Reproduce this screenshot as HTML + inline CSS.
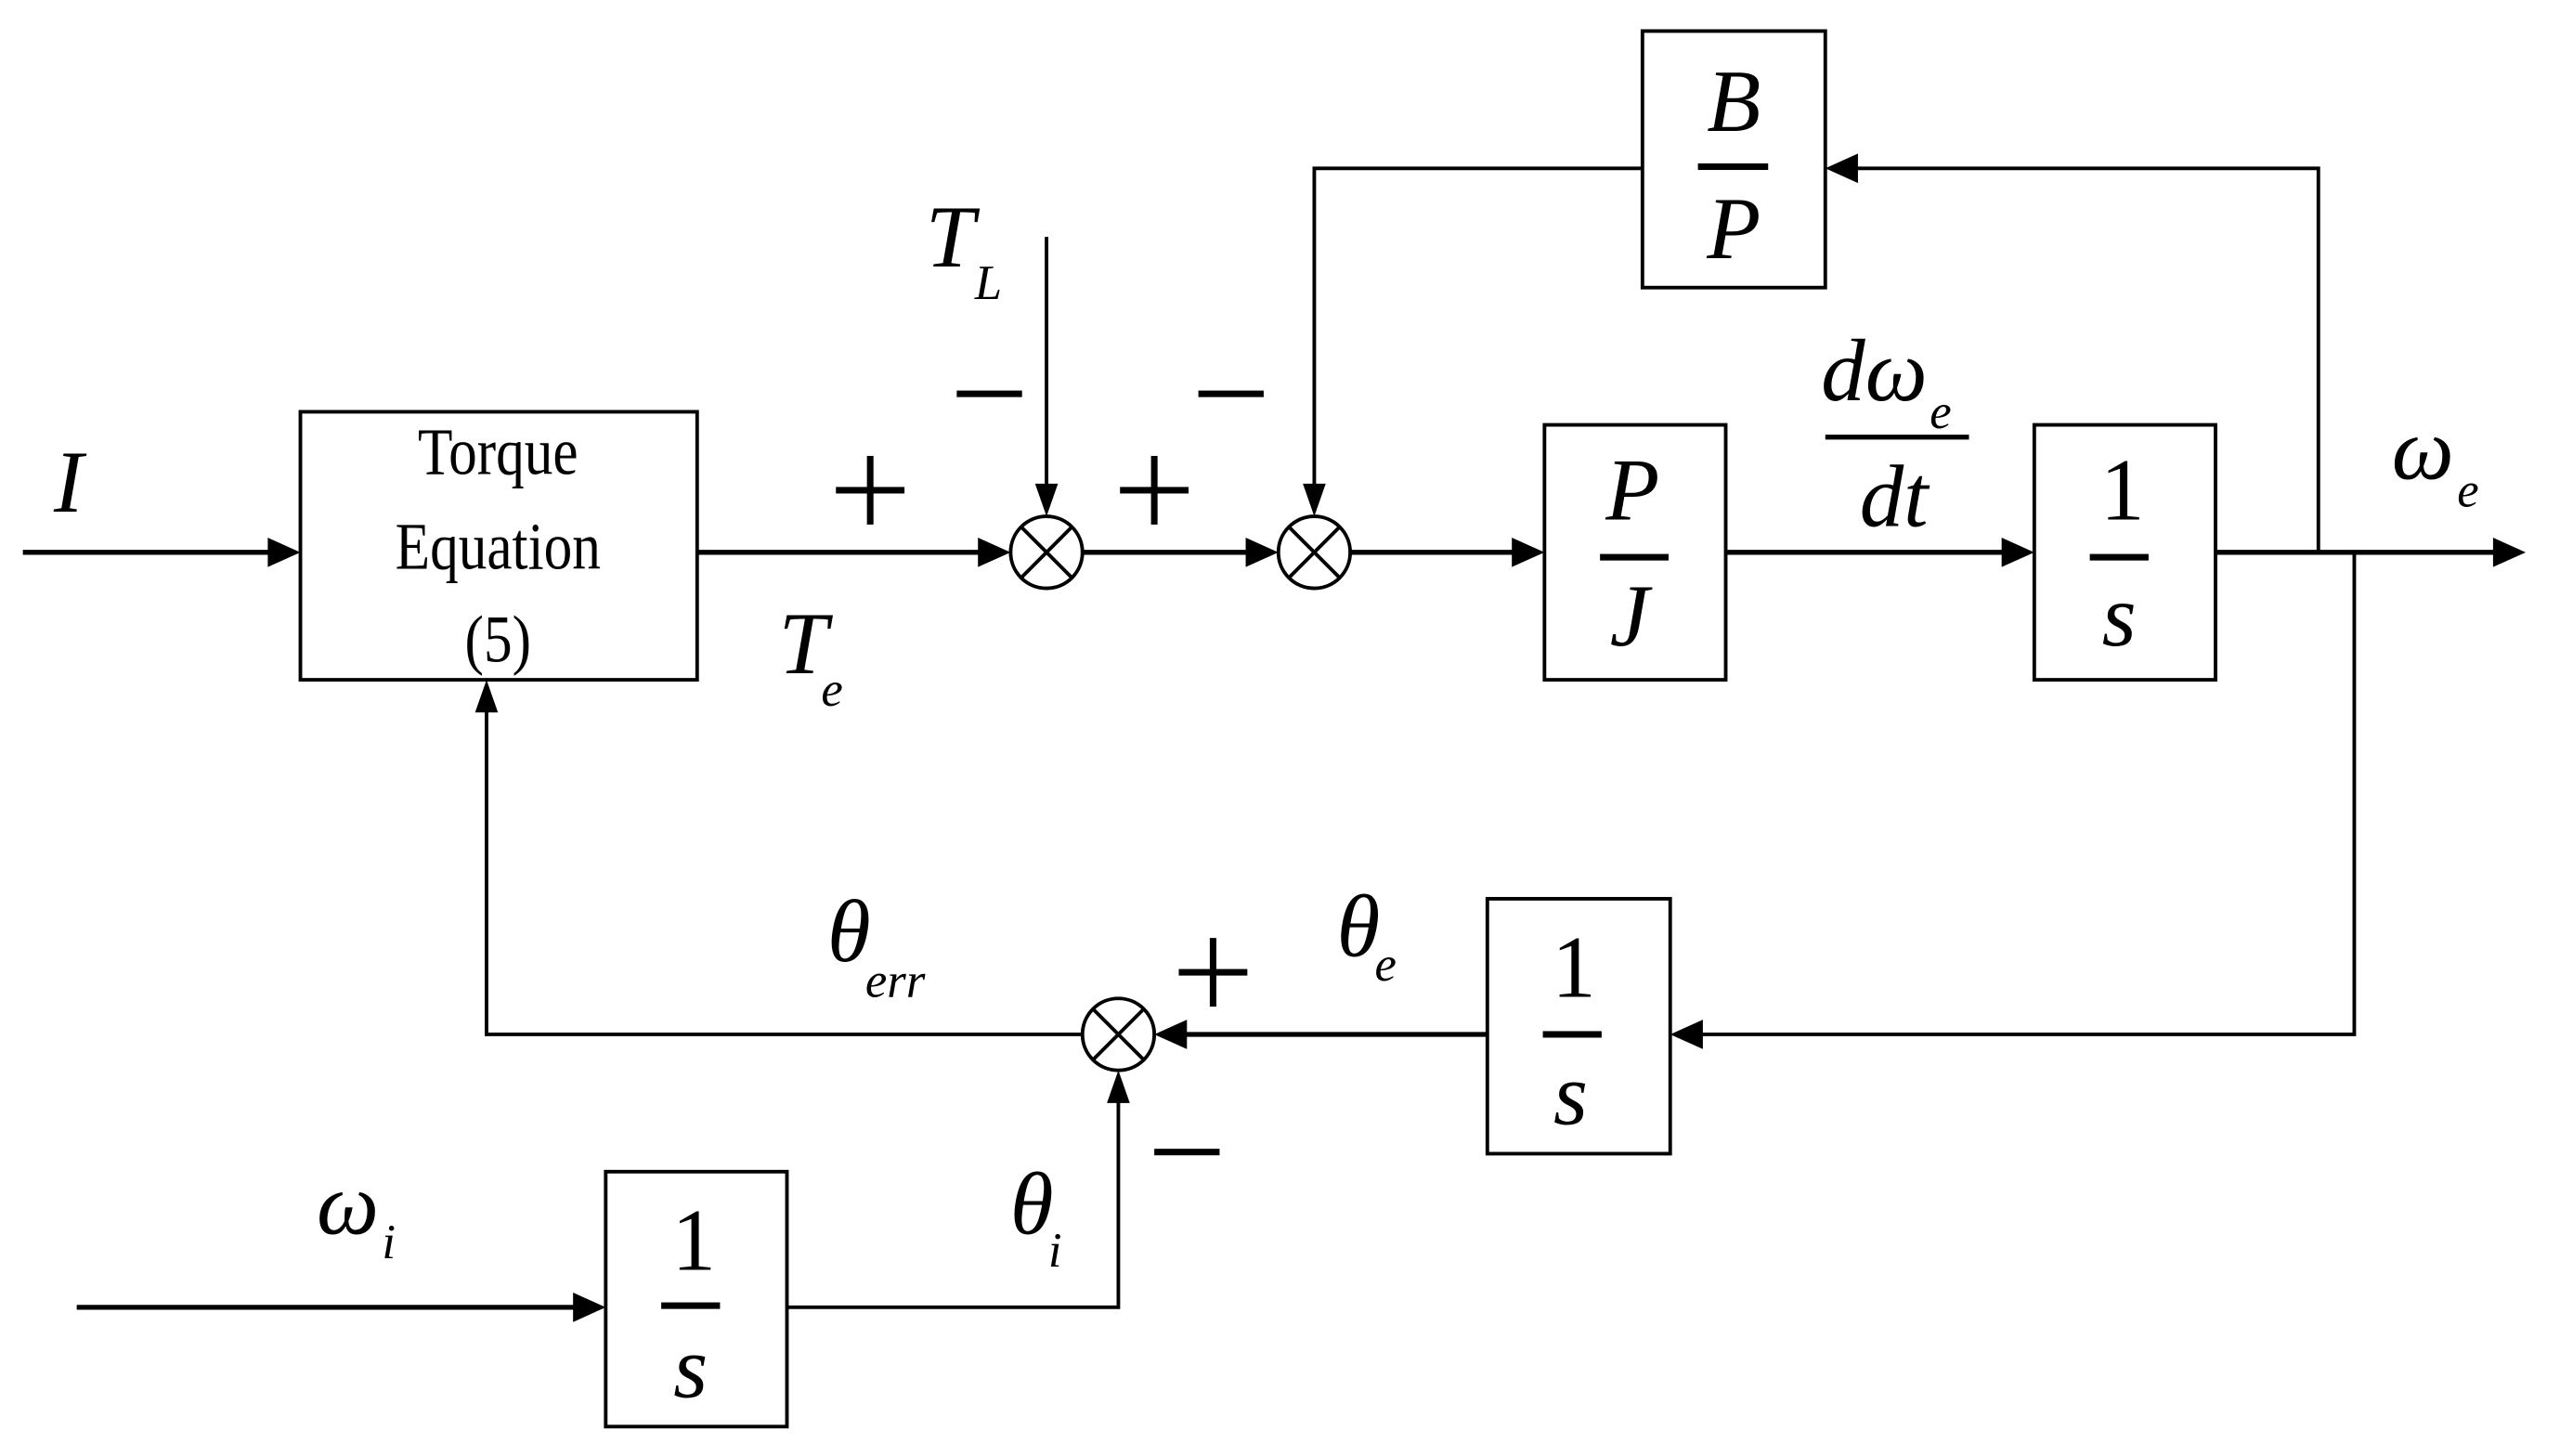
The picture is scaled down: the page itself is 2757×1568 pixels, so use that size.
<!DOCTYPE html>
<html><head><meta charset="utf-8"><style>html,body{margin:0;padding:0;background:#fff}svg{display:block}</style></head>
<body>
<svg width="2757" height="1568" viewBox="0 0 1568 891" preserveAspectRatio="none" xmlns="http://www.w3.org/2000/svg">
<g fill="none" stroke="#000" stroke-width="2.2">
<rect x="184" y="252" width="243" height="164"/>
<rect x="1006" y="19" width="112" height="157"/>
<rect x="946" y="260" width="111" height="156"/>
<rect x="1246" y="260" width="111" height="156"/>
<rect x="911" y="550" width="112" height="156"/>
<rect x="371" y="717" width="111" height="156"/>
<circle cx="641" cy="338" r="22"/><path d="M625,322 L657,354 M657,322 L625,354"/>
<circle cx="805" cy="338" r="22"/><path d="M789,322 L821,354 M821,322 L789,354"/>
<circle cx="685" cy="633" r="22"/><path d="M669,617 L701,649 M701,617 L669,649"/>
<path d="M1006,103 H805 V300"/>
<path d="M1420,338 V103 H1136"/>
<path d="M1442,338 V633 H1041"/>
<path d="M663,633 H298 V434"/>
<path d="M482,800 H685 V673"/>
<path d="M641,145 V298"/>
</g>
<g stroke="#000" stroke-width="3" fill="none">
<path d="M14,338 H166"/><path d="M427,338 H601"/><path d="M663,338 H765"/><path d="M827,338 H928"/><path d="M1057,338 H1228"/><path d="M1357,338 H1529"/>
<path d="M47,800 H353"/><path d="M911,633 H725"/>
</g>
<g fill="#000">
<path d="M184,338 l-20,-9 v18z"/><path d="M619,338 l-20,-9 v18z"/><path d="M783,338 l-20,-9 v18z"/><path d="M946,338 l-20,-9 v18z"/><path d="M1246,338 l-20,-9 v18z"/><path d="M1547,338 l-20,-9 v18z"/>
<path d="M371,800 l-20,-9 v18z"/><path d="M707,633 l20,-9 v18z"/><path d="M1023,633 l20,-9 v18z"/><path d="M1118,103 l20,-9 v18z"/>
<path d="M641,316 l-7,-20 h14z"/><path d="M805,316 l-7,-20 h14z"/><path d="M685,655 l-7,20 h14z"/><path d="M298,416 l-7,20 h14z"/>
<rect x="980" y="339" width="42" height="4"/><rect x="1280" y="339" width="36" height="4"/><rect x="1040" y="100" width="43" height="4"/><rect x="945" y="631" width="36" height="4"/><rect x="405" y="797" width="36" height="4"/><rect x="1118" y="266" width="88" height="3"/>
</g>
<g font-family="Liberation Serif, serif" fill="#000">
<g font-size="41" text-anchor="middle">
<text x="305" y="290" transform="translate(305,0) scale(0.85,1) translate(-305,0)">Torque</text>
<text x="305" y="348" transform="translate(305,0) scale(0.85,1) translate(-305,0)">Equation</text>
<text x="305" y="405" transform="translate(305,0) scale(0.85,1) translate(-305,0)">(5)</text>
</g>
<g font-size="54" text-anchor="middle">
<text x="1300" y="318">1</text><text x="964" y="610">1</text><text x="425" y="777">1</text>
</g>
<g font-size="54" font-style="italic" text-anchor="middle">
<text x="42" y="313">I</text>
<text x="1000" y="318">P</text><text x="998" y="395">J</text>
<text x="1298" y="395">s</text>
<text x="1062" y="80">B</text><text x="1062" y="158">P</text>
<text x="962" y="688">s</text>
<text x="423" y="855">s</text>
<text x="1148" y="245">dω</text><text x="1160" y="322">dt</text>
<text x="1484" y="293">ω</text>
<text x="492" y="412">T</text>
<text x="582" y="163">T</text>
<text x="520" y="588">θ</text>
<text x="832" y="585">θ</text>
<text x="632" y="755">θ</text>
<text x="213" y="755">ω</text>
</g>
<g font-size="30" font-style="italic">
<text x="1182" y="262">e</text>
<text x="1505" y="310">e</text>
<text x="503" y="432">e</text>
<text x="597" y="183">L</text>
<text x="530" y="610">err</text>
<text x="842" y="600">e</text>
<text x="642" y="775">i</text>
<text x="234" y="770">i</text>
</g>
</g>
<g fill="#000">
<rect x="512" y="298" width="42" height="4"/><rect x="531" y="279" width="4" height="42"/>
<rect x="686" y="298" width="42" height="4"/><rect x="705" y="279" width="4" height="42"/>
<rect x="722" y="593" width="42" height="4"/><rect x="741" y="574" width="4" height="42"/>
<rect x="586" y="239" width="40" height="4"/>
<rect x="734" y="239" width="40" height="4"/>
<rect x="707" y="703" width="40" height="4"/>
</g>
</svg>
</body></html>
